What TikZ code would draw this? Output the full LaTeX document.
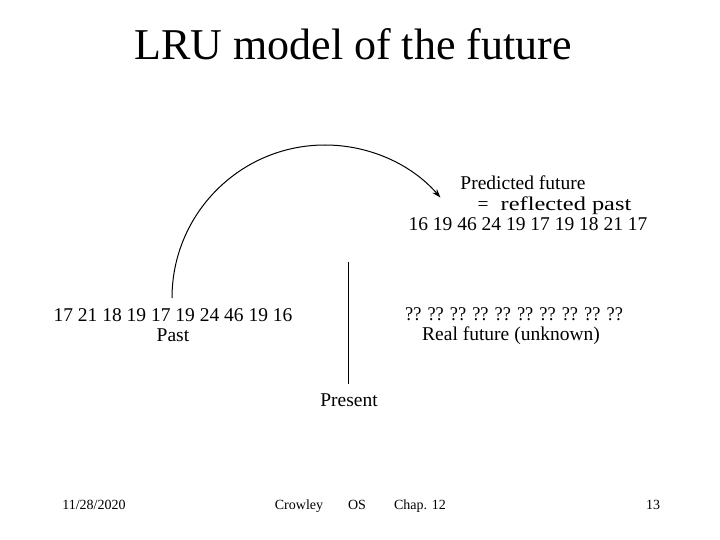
\documentclass[tikz,border=0pt]{standalone}
\usepackage{fontspec}
\setmainfont{Liberation Serif}
\usetikzlibrary{arrows.meta}
\tikzset{
  body/.style={font=\fontsize{19.5}{22}\selectfont, inner sep=0pt, anchor=base},
  foot/.style={font=\fontsize{14}{16}\selectfont, inner sep=0pt, anchor=base},
  ttl/.style={font=\fontsize{44}{48}\selectfont, inner sep=0pt, anchor=base},
  line/.style={line width=1pt, black},
}
\begin{document}
\begin{tikzpicture}[x=1pt,y=-1pt]
\useasboundingbox (0,0) rectangle (720,540);
\node[ttl] (title) at (353,60) {LRU model of the future};
\node[body] (pred1) at (523,189.5) {Predicted future};
\node[body] (pred2) at (554.5,211) {=\hspace{12pt}\scalebox{1.25}[1]{reflected past}};
\node[body] (pred3) at (528,230) {16 19 46 24 19 17 19 18 21 17};
\node[body] (past1) at (173,321.5) {17 21 18 19 17 19 24 46 19 16};
\node[body] (past2) at (173,341) {Past};
\node[body] (fut1) at (514,320.5) {\scalebox{0.94}[1]{?? ?? ?? ?? ?? ?? ?? ?? ?? ??}};
\node[body] (fut2) at (511,340) {Real future (unknown)};
\node[body] (present) at (349,406.5) {Present};
\coordinate (ptop) at (348,262);
\coordinate (pbot) at (348,384);
\draw[line] (ptop) -- (pbot);
\coordinate (arcstart) at (172,298);
\draw[line, -{Stealth[length=9pt,width=6pt]}] (arcstart) arc[start angle=-180, end angle=-41, radius=153];
\node[foot] (date) at (94,509) {11/28/2020};
\node[foot] (auth) at (299,509) {Crowley};
\node[foot] (os) at (357,509) {OS};
\node[foot] (chap) at (420,509) {Chap. 12};
\node[foot] (page) at (653,509) {13};
\end{tikzpicture}
\end{document}
